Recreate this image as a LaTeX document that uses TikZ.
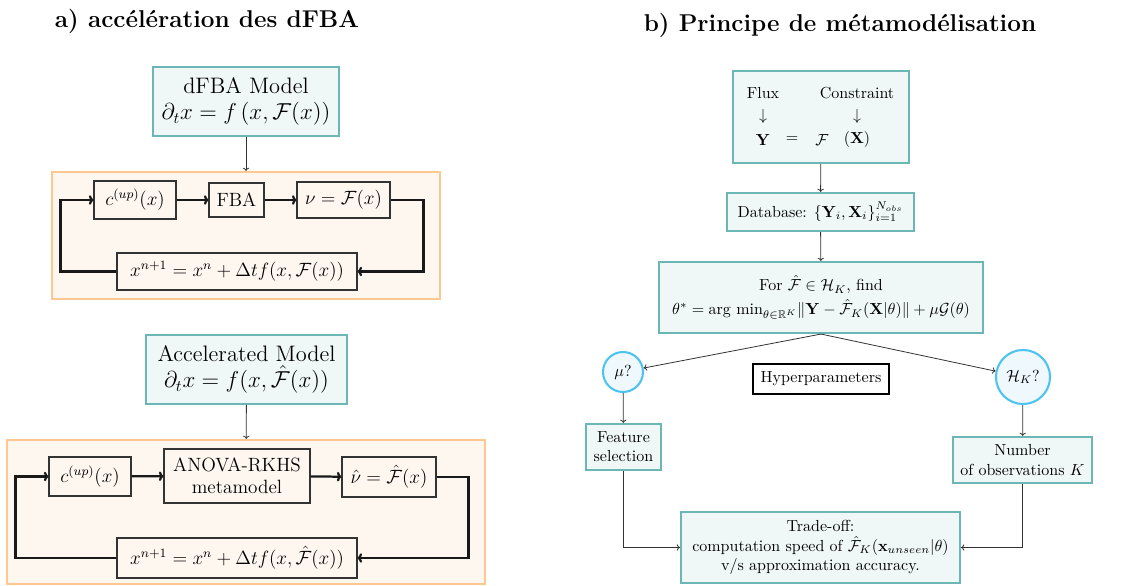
\documentclass[tikz,border=0pt]{standalone}
\usepackage{amsmath,amssymb}
\usepackage{xcolor}
\usepackage{tikz}
\usetikzlibrary{arrows.meta, positioning, calc}

\definecolor{tealbd}{RGB}{106,183,181}
\definecolor{tealbg}{RGB}{240,248,247}
\definecolor{orgbd}{RGB}{252,200,144}
\definecolor{orgbg}{RGB}{254,247,240}
\definecolor{cyanbd}{RGB}{79,195,240}
\definecolor{cyanbg}{RGB}{238,248,253}

\begin{document}
\begin{tikzpicture}[x=0.625pt, y=-0.625pt,
  ttl/.style={font=\fontsize{15.2}{18}\selectfont\bfseries, anchor=base},
  model/.style={draw=tealbd, fill=tealbg, line width=1.3pt, align=center, inner sep=0pt,
                font=\fontsize{14}{16.5}\selectfont},
  panel/.style={draw=orgbd, fill=orgbg, line width=1.3pt, inner sep=0pt},
  blk/.style={draw=black!80, line width=0.7pt, align=center, inner sep=0pt, font=\large},
  tbox/.style={draw=tealbd, fill=tealbg, line width=1.3pt, align=center, inner sep=0pt},
  hyp/.style={circle, draw=cyanbd, fill=cyanbg, line width=1.3pt, inner sep=0pt},
  feedback/.style={-{To[length=2.8pt,width=6pt]}, line width=1.4pt, black!90},
  link/.style={-{To[length=2pt,width=4pt]}, line width=0.5pt, black!80},
]
  \useasboundingbox (0,0) rectangle (1132,586);

  % a) dFBA
  \node[ttl] (ta) at (207,28) {a) accélération des dFBA};

  \node[model, minimum width=116pt, minimum height=43pt] (dfba) at (246,101.5)
    {dFBA Model\\ $\partial_t x = f\left(x, \mathcal{F}(x)\right)$};
  \node[panel, minimum width=242.5pt, minimum height=79.4pt] (loopA) at (246,235.5) {};
  \node[blk, minimum width=51.3pt, minimum height=23.8pt] (cupA) at (135,200) {$c^{(up)}(x)$};
  \node[blk, minimum width=34.4pt, minimum height=21.3pt] (fba) at (236.5,200) {FBA};
  \node[blk, minimum width=58.1pt, minimum height=22.5pt] (nuA) at (343.5,200) {$\nu = \mathcal{F}(x)$};
  \node[blk, minimum width=150pt, minimum height=23.1pt] (updA) at (237,271.5)
    {$x^{n+1} = x^n + \Delta t f(x, \mathcal{F}(x))$};

  \draw[link] (dfba) -- (loopA);
  \draw[feedback] (cupA) -- (fba);
  \draw[feedback] (fba) -- (nuA);
  \draw[feedback] (nuA.east) -- ++(33,0) |- (updA.east);
  \draw[feedback] (updA.west) -- ++(-56,0) |- (cupA.west);

  \node[model, minimum width=125.6pt, minimum height=43pt] (accel) at (246.5,369.5)
    {Accelerated Model\\ $\partial_t x = f(x, \hat{\mathcal{F}}(x))$};
  \node[panel, minimum width=298.8pt, minimum height=90.3pt] (loopB) at (246,512.2) {};
  \node[blk, minimum width=51.3pt, minimum height=24.4pt] (cupB) at (90,476.5) {$c^{(up)}(x)$};
  \node[blk, minimum width=91.3pt, minimum height=33.8pt] (anova) at (237,476)
    {ANOVA-RKHS\\ metamodel};
  \node[blk, minimum width=58.8pt, minimum height=25pt] (nuB) at (389,477) {$\hat{\nu} = \hat{\mathcal{F}}(x)$};
  \node[blk, minimum width=150pt, minimum height=25pt] (updB) at (237,558)
    {$x^{n+1} = x^n + \Delta t f(x, \hat{\mathcal{F}}(x))$};

  \draw[link] (accel) -- (loopB);
  \draw[feedback] (cupB) -- (anova);
  \draw[feedback] (anova) -- (nuB);
  \draw[feedback] (nuB.east) -- ++(32,0) |- (updB.east);
  \draw[feedback] (updB.west) -- ++(-101,0) |- (cupB.west);

  % b) metamodelling
  \node[ttl] (tb) at (840,32) {b) Principe de métamodélisation};

  \node[tbox, minimum width=110pt, minimum height=57.5pt] (fmap) at (821,117) {};
  \node (flux) at (763,93) {Flux};
  \node (cons) at (857,93) {Constraint};
  \node (dflux) at (763,117) {$\downarrow$};
  \node (dcons) at (857,117) {$\downarrow$};
  \node (ysym) at (763,140) {$\mathbf{Y}$};
  \node (eqsym) at (792,140) {$=$};
  \node (fsym) at (822,140) {$\mathcal{F}$};
  \node (xsym) at (857,140) {$(\mathbf{X})$};

  \node[tbox, minimum width=116.9pt, minimum height=23.8pt] (db) at (820.5,212)
    {Database: $\{\mathbf{Y}_i, \mathbf{X}_i\}_{i=1}^{N_{obs}}$};
  \node[tbox, minimum width=202.5pt, minimum height=44.4pt] (opt) at (821,297.5)
    {For $\hat{\mathcal{F}} \in \mathcal{H}_K$, find\\[3pt]
     $\theta^* = \text{arg min}_{\theta\in\mathbb{R}^K} \|\mathbf{Y} - \hat{\mathcal{F}}_K(\mathbf{X}|\theta)\| + \mu\mathcal{G}(\theta)$};

  \node[hyp, minimum size=25pt] (mu) at (623,372) {$\mu$?};
  \node[hyp, minimum size=33.8pt] (hk) at (1023,377) {$\mathcal{H}_K$?};
  \node[draw=black, fill=white, line width=1.3pt, minimum width=85pt, minimum height=18.8pt,
        inner sep=0pt] (hyper) at (821,379) {Hyperparameters};

  \node[tbox, minimum width=46.9pt, minimum height=28.8pt] (feat) at (623.5,447)
    {Feature\\ selection};
  \node[tbox, minimum width=86.9pt, minimum height=28.8pt] (nobs) at (1022.5,460)
    {Number\\ of observations $K$};
  \node[tbox, minimum width=174.4pt, minimum height=44.4pt] (trade) at (820.5,547.5)
    {Trade-off:\\ computation speed of $\hat{\mathcal{F}}_K(\mathbf{x}_{unseen}|\theta)$\\ v/s approximation accuracy.};

  \draw[link] (fmap) -- (db);
  \draw[link] (db) -- (opt);
  \draw[link] (opt.south) -- (mu);
  \draw[link] (opt.south) -- (hk);
  \draw[link] (mu) -- (feat);
  \draw[link] (hk) -- (nobs);
  \draw[link] (feat.south) |- (trade.west);
  \draw[link] (nobs.south) |- (trade.east);
\end{tikzpicture}
\end{document}
